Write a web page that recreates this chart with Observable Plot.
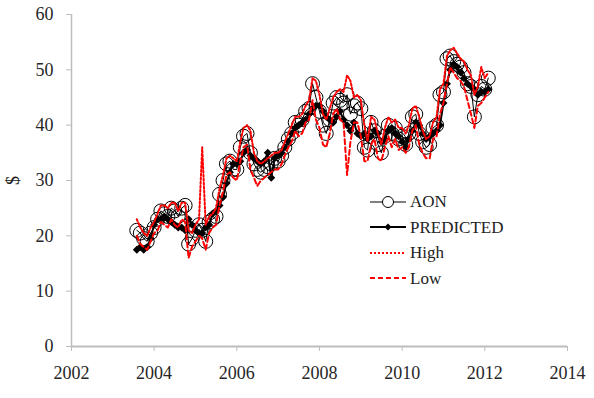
<!DOCTYPE html>
<html>
<head>
<meta charset="utf-8">
<script src="https://cdn.jsdelivr.net/npm/d3@7"></script>
<script src="https://cdn.jsdelivr.net/npm/@observablehq/plot@0.6"></script>
<style>
  html, body { margin: 0; padding: 0; background: #fff; }
  #wrap { position: relative; width: 594px; height: 398px; font-family: "Liberation Serif", "Times New Roman", serif; }
  #legend { position: absolute; left: 370px; top: 189px; }
  .row { display: flex; align-items: center; height: 25.5px; }
  .row svg { display: block; margin-right: 4px; }
  .row span { font-size: 17px; color: #222; line-height: 1; }
  #ylab { position: absolute; left: 9px; top: 170px; font-size: 18px; color: #222; transform: rotate(-90deg); transform-origin: center; }
</style>
</head>
<body>
<div id="wrap"></div>
<script>
// Monthly observations, Aug 2003 .. Feb 2012
const startMonth = new Date(2003, 7, 1);
const endMonth = new Date(2012, 2, 1);

const aon = [
  21, 20.5, 19.5, 19, 20.5,
  21.5, 23, 24.5, 24, 23.5, 25, 24.5, 23.5, 25, 25.5, 18.5, 19.5,
  21, 22, 21, 19, 22.5, 23, 23.5, 27.5, 30, 33, 33.5, 32,
  32, 36, 38, 38.5, 35, 33, 32, 31.5, 32, 32.5, 33, 34,
  33.5, 34.5, 36, 37.5, 38.5, 40.5, 40, 41, 42.5, 43, 47.5, 45,
  42.5, 40, 38.5, 41, 44, 45, 44.5, 44, 45.5, 42, 43.5, 44,
  43, 36, 35.5, 40.5, 39, 36.5, 35, 38, 40, 38.5, 39.5, 37.5,
  38, 36.5, 38.5, 41.5, 42, 38.5, 37, 36, 36.5, 39.5, 40, 45.5,
  46, 52, 52.5, 51.5, 51, 50.5, 49.5, 47.5, 47, 41.5, 45.5, 47,
  46.5, 48.5
];
const predicted = [
  17.5, 18, 17.5, 18, 19.5,
  22, 23, 23, 23.5, 23, 22.5, 22, 21.5, 21.5, 21, 23, 22,
  21, 20.5, 20.5, 21.5, 22, 24, 24.5, 25.5, 27, 29.5, 31.5, 33,
  33, 33.5, 35, 35.5, 34.5, 34, 33.5, 33, 33.5, 35, 30.5, 34,
  34.5, 35, 36, 37, 38.5, 39.5, 40, 40.5, 41, 42, 43, 43.5,
  43.5, 42.5, 41.5, 41, 40.5, 41.5, 42.5, 41, 40, 39, 40.5, 38.5,
  38, 38.5, 37.5, 38, 39, 38.5, 37, 37.5, 39, 39.5, 38.5, 38,
  37, 36, 37.5, 39, 40.5, 40, 38.5, 37.5, 38, 38.5, 39, 40,
  44, 47.5, 50, 51, 50.5, 49.5, 48.5, 47.5, 47, 46.5, 45.5, 46,
  46, 46.5
];
const high = [
  23, 21.5, 20.5, 20, 21.5,
  22.5, 24, 25.5, 25.5, 25, 26, 26, 24.5, 26, 26, 21, 20.5,
  22, 23, 36, 22, 23.5, 24, 25, 28.5, 31, 34, 34.5, 34,
  33.5, 37, 39.5, 40, 39, 35, 33.5, 33, 33.5, 34, 34.5, 35,
  35, 35.5, 37, 38.5, 40, 41.5, 41.5, 42, 43.5, 44.5, 48.5, 48,
  45.5, 42, 41, 43, 45, 46, 46.5, 46, 49, 48, 45, 45.5,
  44.5, 40, 37, 41.5, 41, 38.5, 36.5, 39.5, 41.5, 40.5, 41, 39.5,
  39.5, 38.5, 40, 43, 43.5, 41.5, 39, 37.5, 38, 40.5, 41.5, 46.5,
  47.5, 52.5, 53.5, 54, 53, 52, 51.5, 50, 49, 45.5, 47, 50.5,
  48.5, 49.5
];
const low = [
  20, 18.5, 18, 17.5, 19,
  20.5, 21, 22.5, 22, 21.5, 23, 22, 21.5, 23, 22.5, 16, 18,
  19, 20, 19.5, 17.5, 20.5, 21.5, 22, 25.5, 28, 31, 31.5, 30.5,
  30, 33.5, 36, 36.5, 32, 30.5, 29, 30, 30.5, 31, 31.5, 32,
  32, 33, 34.5, 36, 37, 39, 38, 38.5, 40.5, 41, 44.5, 41,
  39.5, 36.5, 36, 38.5, 42, 43, 41, 40.5, 31, 37, 40.5, 40.5,
  38, 33.5, 33.5, 36.5, 37.5, 34, 33.5, 36, 38, 36, 37.5, 35.5,
  36, 35, 36, 39, 40, 36.5, 35, 34, 34, 37.5, 38, 42,
  44, 47.5, 50.5, 49.5, 48.5, 48, 47, 44.5, 42, 39.5, 43.5, 44,
  45, 46
];
const yTicks = [0, 10, 20, 30, 40, 50, 60];
const xDomain = [new Date(2002, 0, 1), new Date(2014, 0, 1)];
const seriesNames = ["AON", "PREDICTED", "High", "Low"];
const yLabel = "$";

const dates = d3.timeMonth.range(startMonth, endMonth);
const data = dates.map((d, i) => ({date: d, aon: aon[i], predicted: predicted[i], high: high[i], low: low[i]}));

const axisColor = "#bdbdbd";
const textColor = "#262626";
const font = "Liberation Serif";

const chart = Plot.plot({
  width: 594,
  height: 398,
  marginLeft: 71,
  marginRight: 27,
  marginTop: 14,
  marginBottom: 52,
  style: {fontFamily: font, background: "#fff"},
  x: {type: "time", domain: xDomain},
  y: {domain: [0, 60]},
  marks: [
    Plot.ruleX([xDomain[0]], {stroke: axisColor, strokeWidth: 1.5}),
    Plot.ruleY([0], {stroke: axisColor, strokeWidth: 2}),
    Plot.axisX({ticks: d3.timeYear.every(2), tickFormat: d3.timeFormat("%Y"), tickSize: 5, tickPadding: 15,
      stroke: axisColor, color: textColor, fontSize: 18, label: null, fontFamily: font}),
    Plot.axisY({ticks: yTicks, tickSize: 5, tickPadding: 13, stroke: axisColor, color: textColor,
      fontSize: 18, label: null, fontFamily: font}),
    Plot.line(data, {x: "date", y: "aon", stroke: "black", strokeWidth: 1}),
    Plot.dot(data, {x: "date", y: "aon", r: 7, stroke: "black", fill: "none", strokeWidth: 1}),
    Plot.line(data, {x: "date", y: "predicted", stroke: "black", strokeWidth: 2}),
    Plot.dot(data, {x: "date", y: "predicted", symbol: "diamond2", r: 3.6, fill: "black", stroke: "none"}),
    Plot.line(data, {x: "date", y: "high", stroke: "#ff0000", strokeWidth: 2, strokeDasharray: "2,2"}),
    Plot.line(data, {x: "date", y: "low", stroke: "#ff0000", strokeWidth: 2, strokeDasharray: "5,3"})
  ]
});

const wrap = document.getElementById("wrap");
wrap.appendChild(chart);

// y label
const yl = document.createElement("div");
yl.id = "ylab";
yl.textContent = yLabel;
wrap.appendChild(yl);

// legend
const swatches = [
  `<line x1="0" y1="6" x2="36" y2="6" stroke="black" stroke-width="1"/><circle cx="18" cy="6" r="5.5" fill="white" stroke="black"/>`,
  `<line x1="0" y1="6" x2="36" y2="6" stroke="black" stroke-width="2"/><path d="M18,2.5 L21.5,6 L18,9.5 L14.5,6 Z" fill="black"/>`,
  `<line x1="0" y1="6" x2="36" y2="6" stroke="#ff0000" stroke-width="2" stroke-dasharray="2,2"/>`,
  `<line x1="0" y1="6" x2="36" y2="6" stroke="#ff0000" stroke-width="2" stroke-dasharray="5,3"/>`
];
const legend = document.createElement("div");
legend.id = "legend";
seriesNames.forEach((name, i) => {
  const row = document.createElement("div");
  row.className = "row";
  row.innerHTML = `<svg width="36" height="12">${swatches[i]}</svg><span>${name}</span>`;
  legend.appendChild(row);
});
wrap.appendChild(legend);
</script>
</body>
</html>
